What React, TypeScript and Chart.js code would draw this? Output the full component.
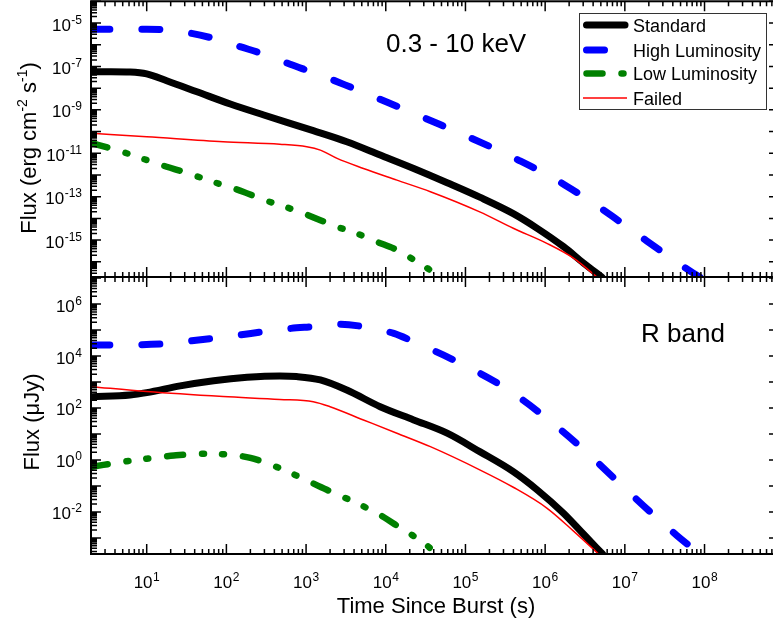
import React, { useEffect, useRef } from 'react';
import { Chart, registerables } from 'chart.js';

Chart.register(...registerables);

const FONT = '"Liberation Sans", Arial, Helvetica, sans-serif';

// ---- axis ranges & tick labels ----
const X_MIN = 2;
const X_MAX = 8.6e8;
const TOP_Y_MIN = 2e-17;
const TOP_Y_MAX = 1e-4;
const BOTTOM_Y_MIN = 2.4e-4;
const BOTTOM_Y_MAX = 1.1e7;

const X_TICK_EXPONENTS = [1, 2, 3, 4, 5, 6, 7, 8];
const TOP_Y_TICK_EXPONENTS = [-15, -13, -11, -9, -7, -5];
const BOTTOM_Y_TICK_EXPONENTS = [-2, 0, 2, 4, 6];

const X_TITLE = 'Time Since Burst (s)';
const TOP_Y_TITLE: [string, boolean][] = [['Flux (erg cm', false], ['-2', true], [' s', false], ['-1', true], [')', false]];
const BOTTOM_Y_TITLE: [string, boolean][] = [['Flux (\u03bcJy)', false]];
const TOP_BAND_LABEL = '0.3 - 10 keV';
const BOTTOM_BAND_LABEL = 'R band';
const SERIES_NAMES = ['Standard', 'High Luminosity', 'Low Luminosity', 'Failed'];

// ---- X-ray (0.3 - 10 keV) light curves: time (s), flux (erg cm^-2 s^-1) ----
const XRAY_STANDARD_T = [2.05, 3.55, 6.2, 10, 17.8, 42.7, 112, 295, 1230, 3240, 8510, 22400, 58900, 151000, 398000, 794000, 1.7e6, 3.02e6, 5.13e6];
const XRAY_STANDARD_F = [5.7e-8, 5.7e-8, 5.5e-8, 4.5e-8, 2.19e-8, 6.8e-9, 1.86e-9, 5.8e-10, 1.1e-10, 3.4e-11, 8.3e-12, 2.0e-12, 4.4e-13, 9.5e-14, 1.66e-14, 3.5e-15, 5.0e-16, 8.9e-17, 2.0e-17];

const XRAY_HIGH_T = [2.05, 10, 15.8, 35.5, 69.2, 148, 295, 631, 1230, 2690, 5250, 11200, 22400, 47900, 105000, 224000, 417000, 955000, 1.78e6, 4.07e6, 7.59e6, 1.7e7, 3.39e7, 7.24e7, 8.71e7];
const XRAY_HIGH_F = [5.2e-6, 5.2e-6, 5.0e-6, 3.4e-6, 1.95e-6, 8.1e-7, 3.7e-7, 1.26e-7, 5.2e-8, 1.74e-8, 6.3e-9, 2.0e-9, 6.9e-10, 2.1e-10, 6.0e-11, 1.74e-11, 5.8e-12, 1.26e-12, 3.4e-13, 4.9e-14, 1.0e-14, 1.2e-15, 2.0e-16, 3.0e-17, 2.0e-17];

const XRAY_LOW_T = [2.05, 3.47, 5.6, 10, 17.8, 28.8, 51.3, 91.2, 162, 263, 468, 832, 1510, 2450, 4370, 7760, 13800, 24500, 39800, 43700];
const XRAY_LOW_F = [2.9e-11, 1.7e-11, 1.0e-11, 4.9e-12, 2.4e-12, 1.4e-12, 6.9e-13, 3.4e-13, 1.7e-13, 8.3e-14, 4.1e-14, 2.0e-14, 8.3e-15, 4.1e-15, 2.0e-15, 8.3e-16, 3.5e-16, 1.0e-16, 3.0e-17, 2.0e-17];

const XRAY_FAILED_T = [2.05, 10, 91, 468, 1020, 1510, 2450, 5250, 13800, 36300, 151000, 398000, 1.05e6, 2.29e6, 4.47e6];
const XRAY_FAILED_F = [8.3e-11, 5.8e-11, 3.4e-11, 2.6e-11, 2.0e-11, 1.4e-11, 5.8e-12, 2.0e-12, 5.8e-13, 1.7e-13, 2.0e-14, 3.5e-15, 7.1e-16, 1.45e-16, 2.0e-17];

// ---- Optical (R band) light curves: time (s), flux (uJy) ----
const OPT_STANDARD_T = [2.05, 6.2, 10, 26.3, 69.2, 182, 468, 759, 1510, 3240, 8510, 22400, 58900, 151000, 398000, 794000, 1.7e6, 3.02e6, 5.25e6];
const OPT_STANDARD_F = [272, 316, 389, 708, 1120, 1510, 1700, 1620, 1200, 490, 112, 34.7, 10.7, 2.09, 0.355, 0.0708, 0.0089, 0.00141, 0.00024];

const OPT_HIGH_T = [2.05, 14.8, 35.5, 69.2, 148, 295, 631, 1230, 2690, 5250, 12600, 22400, 52500, 95500, 224000, 501000, 1.26e6, 3.16e6, 7.94e6, 2.0e7, 4.47e7, 8.71e7];
const OPT_HIGH_F = [26300, 28800, 38000, 47900, 64600, 87100, 115000, 135000, 166000, 135000, 74100, 35500, 11000, 4470, 1120, 224, 25.1, 2.24, 0.158, 0.0112, 0.00126, 0.00024];

const OPT_LOW_T = [2.05, 5.6, 10, 21.9, 51.3, 91.2, 200, 468, 832, 1820, 4370, 8510, 16600, 24500, 39800, 41700];
const OPT_LOW_F = [0.55, 0.89, 1.12, 1.48, 1.74, 1.66, 1.2, 0.479, 0.219, 0.0708, 0.0214, 0.00759, 0.00204, 0.00098, 0.000295, 0.00024];

const OPT_FAILED_T = [2.05, 10, 91, 468, 1230, 2000, 5250, 13800, 36300, 151000, 398000, 1.05e6, 2.29e6, 4.68e6];
const OPT_FAILED_F = [661, 427, 275, 214, 174, 112, 34.7, 10.7, 3.24, 0.417, 0.0891, 0.0141, 0.00178, 0.00024];

// ---- styles ----
const STYLES: any[] = [
  { borderColor: '#000000', borderWidth: 7, borderDash: [], order: 2 },
  { borderColor: '#0000ff', borderWidth: 7, borderDash: [18, 32], order: 3 },
  { borderColor: '#008000', borderWidth: 6.5, borderDash: [16, 19, 2, 18, 2, 19], order: 4 },
  { borderColor: '#ff0000', borderWidth: 1.5, borderDash: [], order: 1 },
];

function makeDatasets(ts: number[][], fs: number[][]) {
  return ts.map((t, k) => ({
    label: SERIES_NAMES[k],
    data: t.map((x, i) => ({ x, y: fs[k][i] })),
    borderCapStyle: 'round',
    borderJoinStyle: 'round',
    cubicInterpolationMode: 'monotone',
    pointRadius: 0,
    fill: false,
    clip: 0,
    ...STYLES[k],
  }));
}

function drawPow(ctx: CanvasRenderingContext2D, exp: number, x: number, baseY: number, align: 'right' | 'center') {
  const base = '10';
  const sup = String(exp);
  ctx.font = `17px ${FONT}`;
  const wb = ctx.measureText(base).width;
  ctx.font = `12px ${FONT}`;
  const ws = ctx.measureText(sup).width;
  const total = wb + ws + 0.5;
  const x0 = align === 'right' ? x - total : x - total / 2;
  ctx.textAlign = 'left';
  ctx.textBaseline = 'alphabetic';
  ctx.font = `17px ${FONT}`;
  ctx.fillText(base, x0, baseY);
  ctx.font = `12px ${FONT}`;
  ctx.fillText(sup, x0 + wb + 0.5, baseY - 7);
}

function drawRotatedTitle(ctx: CanvasRenderingContext2D, parts: [string, boolean][], bx: number, cy: number) {
  ctx.save();
  ctx.translate(bx, cy);
  ctx.rotate(-Math.PI / 2);
  ctx.textAlign = 'left';
  ctx.textBaseline = 'alphabetic';
  let total = 0;
  const widths = parts.map(([s, sup]) => {
    ctx.font = `${sup ? 14 : 22}px ${FONT}`;
    const w = ctx.measureText(s).width;
    total += w;
    return w;
  });
  let x = -total / 2;
  parts.forEach(([s, sup], i) => {
    ctx.font = `${sup ? 14 : 22}px ${FONT}`;
    ctx.fillText(s, x, sup ? -9 : 0);
    x += widths[i];
  });
  ctx.restore();
}

type PanelCfg = {
  yExps: number[];
  xLabels: boolean;
  title: [string, boolean][];
  titleX: number;
  titleY: number;
  band: string;
  bandX: number;
  bandY: number;
  legend: boolean;
};

function makeFrame(cfg: PanelCfg) {
  return {
    id: 'frame',
    afterDatasetsDraw(chart: any) {
      const ctx: CanvasRenderingContext2D = chart.ctx;
      const a = chart.chartArea;
      const xs = chart.scales.x;
      const ys = chart.scales.y;
      ctx.save();
      ctx.strokeStyle = '#000';
      ctx.fillStyle = '#000';
      ctx.setLineDash([]);
      ctx.lineCap = 'butt';
      ctx.lineWidth = 1.5;
      ctx.beginPath();
      const xLo = Math.floor(Math.log10(xs.min));
      const xHi = Math.ceil(Math.log10(xs.max));
      for (let d = xLo; d <= xHi; d++) {
        for (let m = 1; m < 10; m++) {
          const v = m * Math.pow(10, d);
          if (v < xs.min || v > xs.max) continue;
          const px = xs.getPixelForValue(v);
          const len = m === 1 ? 10 : 5;
          ctx.moveTo(px, a.bottom);
          ctx.lineTo(px, a.bottom - len);
          ctx.moveTo(px, a.top);
          ctx.lineTo(px, a.top + len);
        }
      }
      const yLo = Math.floor(Math.log10(ys.min));
      const yHi = Math.ceil(Math.log10(ys.max));
      for (let d = yLo; d <= yHi; d++) {
        for (let m = 1; m < 10; m++) {
          const v = m * Math.pow(10, d);
          if (v < ys.min || v > ys.max) continue;
          const py = ys.getPixelForValue(v);
          const len = m === 1 ? 10 : 6;
          ctx.moveTo(a.left, py);
          ctx.lineTo(a.left + len, py);
          ctx.moveTo(a.right, py);
          ctx.lineTo(a.right - len, py);
        }
      }
      ctx.stroke();

      ctx.lineWidth = 2;
      ctx.strokeRect(a.left, a.top, a.right - a.left, a.bottom - a.top);

      // y tick labels
      cfg.yExps.forEach((e) => {
        const py = ys.getPixelForValue(Math.pow(10, e));
        drawPow(ctx, e, a.left - 9, py + 7.5, 'right');
      });

      // x tick labels + title
      if (cfg.xLabels) {
        X_TICK_EXPONENTS.forEach((e) => {
          const px = xs.getPixelForValue(Math.pow(10, e));
          drawPow(ctx, e, px, a.bottom + 34, 'center');
        });
        ctx.font = `22px ${FONT}`;
        ctx.textAlign = 'center';
        ctx.textBaseline = 'alphabetic';
        ctx.fillText(X_TITLE, 436, a.bottom + 59);
      }

      drawRotatedTitle(ctx, cfg.title, cfg.titleX, cfg.titleY);

      ctx.font = `26px ${FONT}`;
      ctx.textAlign = 'left';
      ctx.textBaseline = 'alphabetic';
      ctx.fillText(cfg.band, cfg.bandX, cfg.bandY);

      if (cfg.legend) {
        const bx = 579.5, by = 13.5, bw = 187, bh = 96;
        ctx.fillStyle = '#fff';
        ctx.fillRect(bx, by, bw, bh);
        ctx.lineWidth = 1;
        ctx.strokeStyle = '#333';
        ctx.strokeRect(bx, by, bw, bh);
        const rows = [25, 50, 73.5, 98];
        chart.data.datasets.forEach((ds: any, i: number) => {
          const ry = rows[i];
          ctx.save();
          ctx.strokeStyle = ds.borderColor;
          ctx.lineWidth = ds.borderWidth;
          ctx.lineCap = 'round';
          ctx.setLineDash(ds.borderDash || []);
          ctx.beginPath();
          if (ds.borderWidth > 3) {
            ctx.moveTo(586.5, ry);
            ctx.lineTo(625, ry);
          } else {
            ctx.lineCap = 'butt';
            ctx.moveTo(583, ry);
            ctx.lineTo(627, ry);
          }
          ctx.stroke();
          ctx.restore();
          ctx.fillStyle = '#000';
          ctx.font = `18px ${FONT}`;
          ctx.textAlign = 'left';
          ctx.textBaseline = 'alphabetic';
          ctx.fillText(ds.label, 633, ry + 6.5);
        });
      }
      ctx.restore();
    },
  };
}

function makeConfig(datasets: any[], yMin: number, yMax: number, padding: any, cfg: PanelCfg): any {
  return {
    type: 'line',
    data: { datasets },
    options: {
      animation: false,
      responsive: false,
      maintainAspectRatio: false,
      devicePixelRatio: 1,
      layout: { padding },
      scales: {
        x: { type: 'logarithmic', min: X_MIN, max: X_MAX, display: false },
        y: { type: 'logarithmic', min: yMin, max: yMax, display: false },
      },
      plugins: { legend: { display: false }, tooltip: { enabled: false } },
      elements: { point: { radius: 0 } },
    },
    plugins: [makeFrame(cfg)],
  };
}

export default function App() {
  const topRef = useRef<HTMLCanvasElement>(null);
  const botRef = useRef<HTMLCanvasElement>(null);

  useEffect(() => {
    const top = new Chart(
      topRef.current as HTMLCanvasElement,
      makeConfig(
        makeDatasets(
          [XRAY_STANDARD_T, XRAY_HIGH_T, XRAY_LOW_T, XRAY_FAILED_T],
          [XRAY_STANDARD_F, XRAY_HIGH_F, XRAY_LOW_F, XRAY_FAILED_F]
        ),
        TOP_Y_MIN,
        TOP_Y_MAX,
        { left: 91, right: 11, top: 1.3, bottom: 1 },
        {
          yExps: TOP_Y_TICK_EXPONENTS,
          xLabels: false,
          title: TOP_Y_TITLE,
          titleX: 36,
          titleY: 148,
          band: TOP_BAND_LABEL,
          bandX: 386,
          bandY: 52,
          legend: true,
        }
      )
    );
    const bottom = new Chart(
      botRef.current as HTMLCanvasElement,
      makeConfig(
        makeDatasets(
          [OPT_STANDARD_T, OPT_HIGH_T, OPT_LOW_T, OPT_FAILED_T],
          [OPT_STANDARD_F, OPT_HIGH_F, OPT_LOW_F, OPT_FAILED_F]
        ),
        BOTTOM_Y_MIN,
        BOTTOM_Y_MAX,
        { left: 91, right: 11, top: 7, bottom: 65 },
        {
          yExps: BOTTOM_Y_TICK_EXPONENTS,
          xLabels: true,
          title: BOTTOM_Y_TITLE,
          titleX: 39,
          titleY: 152,
          band: BOTTOM_BAND_LABEL,
          bandX: 641,
          bandY: 72,
          legend: false,
        }
      )
    );
    return () => {
      top.destroy();
      bottom.destroy();
    };
  }, []);

  return (
    <div
      style={{
        position: 'fixed',
        left: 0,
        top: 0,
        width: 773,
        height: 619,
        overflow: 'hidden',
        background: '#fff',
      }}
    >
      <canvas ref={topRef} width={790} height={278} style={{ position: 'absolute', left: 0, top: 0, width: 790, height: 278 }} />
      <canvas ref={botRef} width={790} height={349} style={{ position: 'absolute', left: 0, top: 270, width: 790, height: 349 }} />
    </div>
  );
}
